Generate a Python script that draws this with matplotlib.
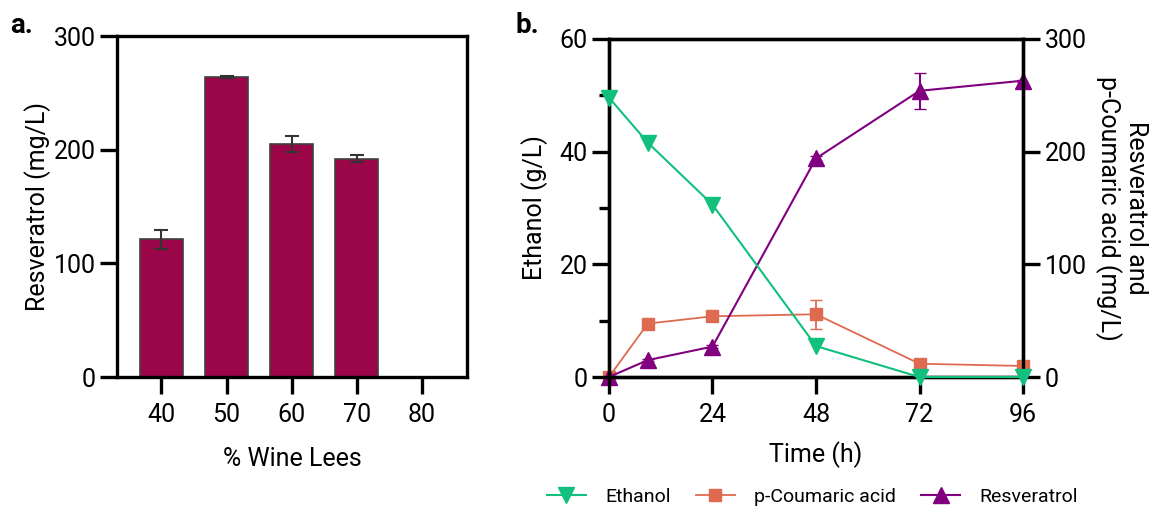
import matplotlib
matplotlib.use("Agg")
import matplotlib.pyplot as plt
from matplotlib.ticker import MultipleLocator

plt.rcParams['font.family'] = ['Roboto', 'DejaVu Sans']

# panel a data
lees = ['40', '50', '60', '70', '80']
resv_a = [121, 264, 205, 192, None]
resv_a_err = [8, 1, 7, 3, None]

# panel b data
time_h = [0, 9, 24, 48, 72, 96]
ethanol = [49.6, 41.6, 30.6, 5.5, 0.0, 0.0]
coumaric = [0.0, 47.4, 53.9, 55.7, 11.8, 9.8]
coumaric_err = [0, 1, 1, 13, 3, 1]
resveratrol = [0.0, 15, 27, 194, 254, 263]
resveratrol_err = [0, 1, 1, 2, 16, 1]

c_bar = '#9B0649'
c_eth = '#12C07E'
c_cou = '#DE6A50'
c_res = '#800080'

fig = plt.figure(figsize=(11.54, 5.11), dpi=100)

fs = 18
lw = 2.4

# ---- a ----
ax = fig.add_axes([0.1014, 0.2622, 0.3033, 0.6673])
xs = [i for i, v in enumerate(resv_a) if v is not None]
ax.bar(xs, [resv_a[i] for i in xs], width=0.66, color=c_bar, edgecolor='#404040', linewidth=1.2, zorder=2)
ax.errorbar(xs, [resv_a[i] for i in xs], yerr=[resv_a_err[i] for i in xs], fmt='none',
            ecolor='#333333', elinewidth=1.5, capsize=5, capthick=1.5, zorder=3)
ax.set_xlim(-0.68, 4.69)
ax.set_ylim(0, 300)
ax.set_xticks(range(len(lees)))
ax.set_xticklabels(lees)
ax.set_yticks([0, 100, 200, 300])
ax.set_ylabel('Resveratrol (mg/L)', fontsize=fs, labelpad=2)
ax.set_xlabel('% Wine Lees', fontsize=fs, labelpad=14)
for s in ax.spines.values():
    s.set_linewidth(lw)
ax.tick_params(axis='both', labelsize=fs, width=lw, length=12, direction='out')
ax.tick_params(axis='x', pad=7)
fig.text(0.009, 0.935, 'a.', fontsize=20, fontweight='bold')

# ---- b ----
bx = fig.add_axes([0.5277, 0.2622, 0.3588, 0.6615])
bx2 = bx.twinx()
l1, = bx.plot(time_h, ethanol, color=c_eth, marker='v', markersize=11, linewidth=1.5, clip_on=False, zorder=4)
bx.set_xlim(0, 96)
bx.set_ylim(0, 60)
bx.set_xticks([0, 24, 48, 72, 96])
bx.set_yticks([0, 20, 40, 60])
bx.yaxis.set_minor_locator(MultipleLocator(10))
bx.set_ylabel('Ethanol (g/L)', fontsize=fs, labelpad=8)
bx.set_xlabel('Time (h)', fontsize=fs, labelpad=10)

l2 = bx2.errorbar(time_h, coumaric, yerr=coumaric_err, color=c_cou, marker='s', markersize=9,
                  linewidth=1.3, elinewidth=1.3, capsize=4, zorder=3)
l3 = bx2.errorbar(time_h, resveratrol, yerr=resveratrol_err, color=c_res, marker='^', markersize=11,
                  linewidth=1.5, elinewidth=1.5, capsize=4, zorder=3)
for art in (l2, l3):
    art.lines[0].set_clip_on(False)
bx2.set_ylim(0, 300)
bx2.set_yticks([0, 100, 200, 300])
fig.text(0.972, 0.593, 'Resveratrol and\np-Coumaric acid (mg/L)', fontsize=fs, rotation=270,
         ha='center', va='center', linespacing=1.1)
bx.set_zorder(bx2.get_zorder() + 1)
bx.patch.set_visible(False)

for a in (bx, bx2):
    for s in a.spines.values():
        s.set_linewidth(lw)
bx.tick_params(axis='both', which='major', labelsize=fs, width=lw, length=12)
bx.tick_params(axis='y', which='minor', width=lw, length=7)
bx.tick_params(axis='x', pad=7)
bx2.tick_params(axis='y', labelsize=fs, width=lw, length=12)
fig.text(0.447, 0.935, 'b.', fontsize=20, fontweight='bold')

fig.legend([l1, l2[0], l3[0]], ['Ethanol', 'p-Coumaric acid', 'Resveratrol'], loc='center',
           bbox_to_anchor=(0.704, 0.027), ncol=3, frameon=False, fontsize=14,
           handlelength=2.0, columnspacing=1.3, handletextpad=1.0)

fig.savefig('out.png', dpi=100)
